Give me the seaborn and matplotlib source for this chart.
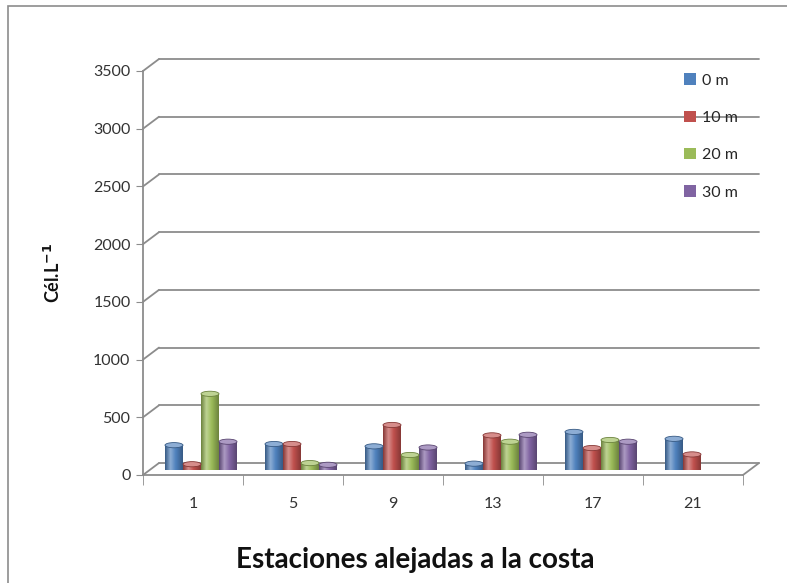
import matplotlib
matplotlib.use("Agg")
import matplotlib.pyplot as plt
import matplotlib.transforms as mtransforms
import matplotlib.colors as mcolors
from matplotlib.patches import Rectangle, Ellipse
import numpy as np
import seaborn as sns
import pandas as pd

# datos
estaciones = ["1", "5", "9", "13", "17", "21"]
prof_0m = [215, 225, 205, 55, 330, 270]
prof_10m = [50, 225, 390, 300, 190, 135]
prof_20m = [660, 60, 130, 245, 260, 0]
prof_30m = [245, 45, 195, 305, 245, 0]
profundidades = ["0 m", "10 m", "20 m", "30 m"]
colores = ["#4F81BD", "#C0504D", "#9BBB59", "#8064A2"]
yticks = [0, 500, 1000, 1500, 2000, 2500, 3000, 3500]

df = pd.DataFrame({
    "estacion": estaciones * 4,
    "prof": sum([[p] * len(estaciones) for p in profundidades], []),
    "valor": prof_0m + prof_10m + prof_20m + prof_30m,
})

sns.set_style("white")
plt.rcParams["font.family"] = ["Lato", "DejaVu Sans"]

W, H = 787, 583
fig = plt.figure(figsize=(W / 100, H / 100), dpi=100)
ax = fig.add_axes([143 / W, (H - 475) / H, 600 / W, 404 / H])

# borde del area del grafico
fig.patches.append(Rectangle((8 / W, -0.1), 1.2, (H - 6) / H + 0.1, transform=fig.transFigure,
                             fill=False, edgecolor="#8c8c8c", lw=1.2))

gris = "#8c8c8c"

# barras a media profundidad
medio = ax.transData + mtransforms.ScaledTranslation(8 / 100, 5 / 100, fig.dpi_scale_trans)
sns.barplot(data=df, x="estacion", y="valor", hue="prof", palette=colores, saturation=1,
            width=0.72, gap=0.0, ax=ax, edgecolor="none", zorder=3)

ax.set_ylim(0, 3500)
ax.set_xlim(-0.5, 5.5)

# sombreado tipo cilindro
grad = np.linspace(0, 1, 64).reshape(1, -1)
for bar in list(ax.patches):
    bar.set_transform(medio)
    bar.set_clip_on(False)
    h = bar.get_height()
    if h <= 0:
        continue
    base = np.array(mcolors.to_rgb(bar.get_facecolor()))
    oscuro = base * 0.7
    claro = base + (1 - base) * 0.35
    cmap = mcolors.LinearSegmentedColormap.from_list(
        "cil", [(0, oscuro), (0.3, claro), (0.6, base), (1, oscuro)])
    x0, w = bar.get_x(), bar.get_width()
    im = ax.imshow(grad, extent=[x0, x0 + w, 0, h], aspect="auto", cmap=cmap,
                   transform=medio, zorder=3.5, interpolation="bilinear")
    im.set_clip_path(bar)
    tapa = Ellipse((x0 + w / 2, h), w, 45, transform=medio, facecolor=claro,
                   edgecolor=oscuro, lw=0.6, zorder=4, clip_on=False)
    ax.add_patch(tapa)

ax.set_ylim(0, 3500)
ax.set_xlim(-0.5, 5.5)
ax.set_aspect("auto")

# pared del fondo desplazada (efecto 3D)
fondo = ax.transData + mtransforms.ScaledTranslation(16 / 100, 12 / 100, fig.dpi_scale_trans)
def diagonal(x, y):
    t0 = ax.transData.transform((x, y))
    t1 = fondo.transform((x, y))
    fig.add_artist(plt.Line2D([t0[0] / W, t1[0] / W], [t0[1] / H, t1[1] / H],
                              transform=fig.transFigure, color=gris, lw=1.3, zorder=1))

for y in yticks:
    ax.plot([-0.5, 5.5], [y, y], color=gris, lw=1.3, transform=fondo, clip_on=False, zorder=0)
    diagonal(-0.5, y)
diagonal(5.5, 0)

ax.set_yticks(yticks)
ax.set_yticklabels([str(v) for v in yticks], fontsize=11.5, color="#333333")
ax.set_xticks(range(6))
ax.set_xticklabels(estaciones, fontsize=11.5, color="#333333")
ax.tick_params(axis="x", length=0, pad=16)
ax.tick_params(axis="y", length=5, color=gris, left=True, pad=4)
ax.set_xticks([i - 0.5 for i in range(7)], minor=True)
ax.tick_params(axis="x", which="minor", length=7, color=gris, bottom=True, direction="out")

for s in ["top", "right"]:
    ax.spines[s].set_visible(False)
for s in ["left", "bottom"]:
    ax.spines[s].set_color(gris)
    ax.spines[s].set_linewidth(1.3)
ax.patch.set_alpha(0)

ax.set_xlabel("Estaciones alejadas a la costa", fontsize=20, fontweight="bold", color="#111111")
ax.xaxis.set_label_coords((415 - 143) / 600, -72 / 404)
ax.set_ylabel(r"Cél.L$^{\mathbf{-1}}$", fontsize=13, fontweight="bold", color="#111111")
ax.yaxis.set_label_coords(-80 / 600, 0.5)

ax.legend(title=None, loc="upper left", bbox_to_anchor=(535 / 600, 1.01), frameon=False,
          fontsize=11.5, handlelength=0.7, handleheight=0.7, handletextpad=0.4,
          labelspacing=1.45, borderaxespad=0)

fig.savefig("out.png", dpi=100)
